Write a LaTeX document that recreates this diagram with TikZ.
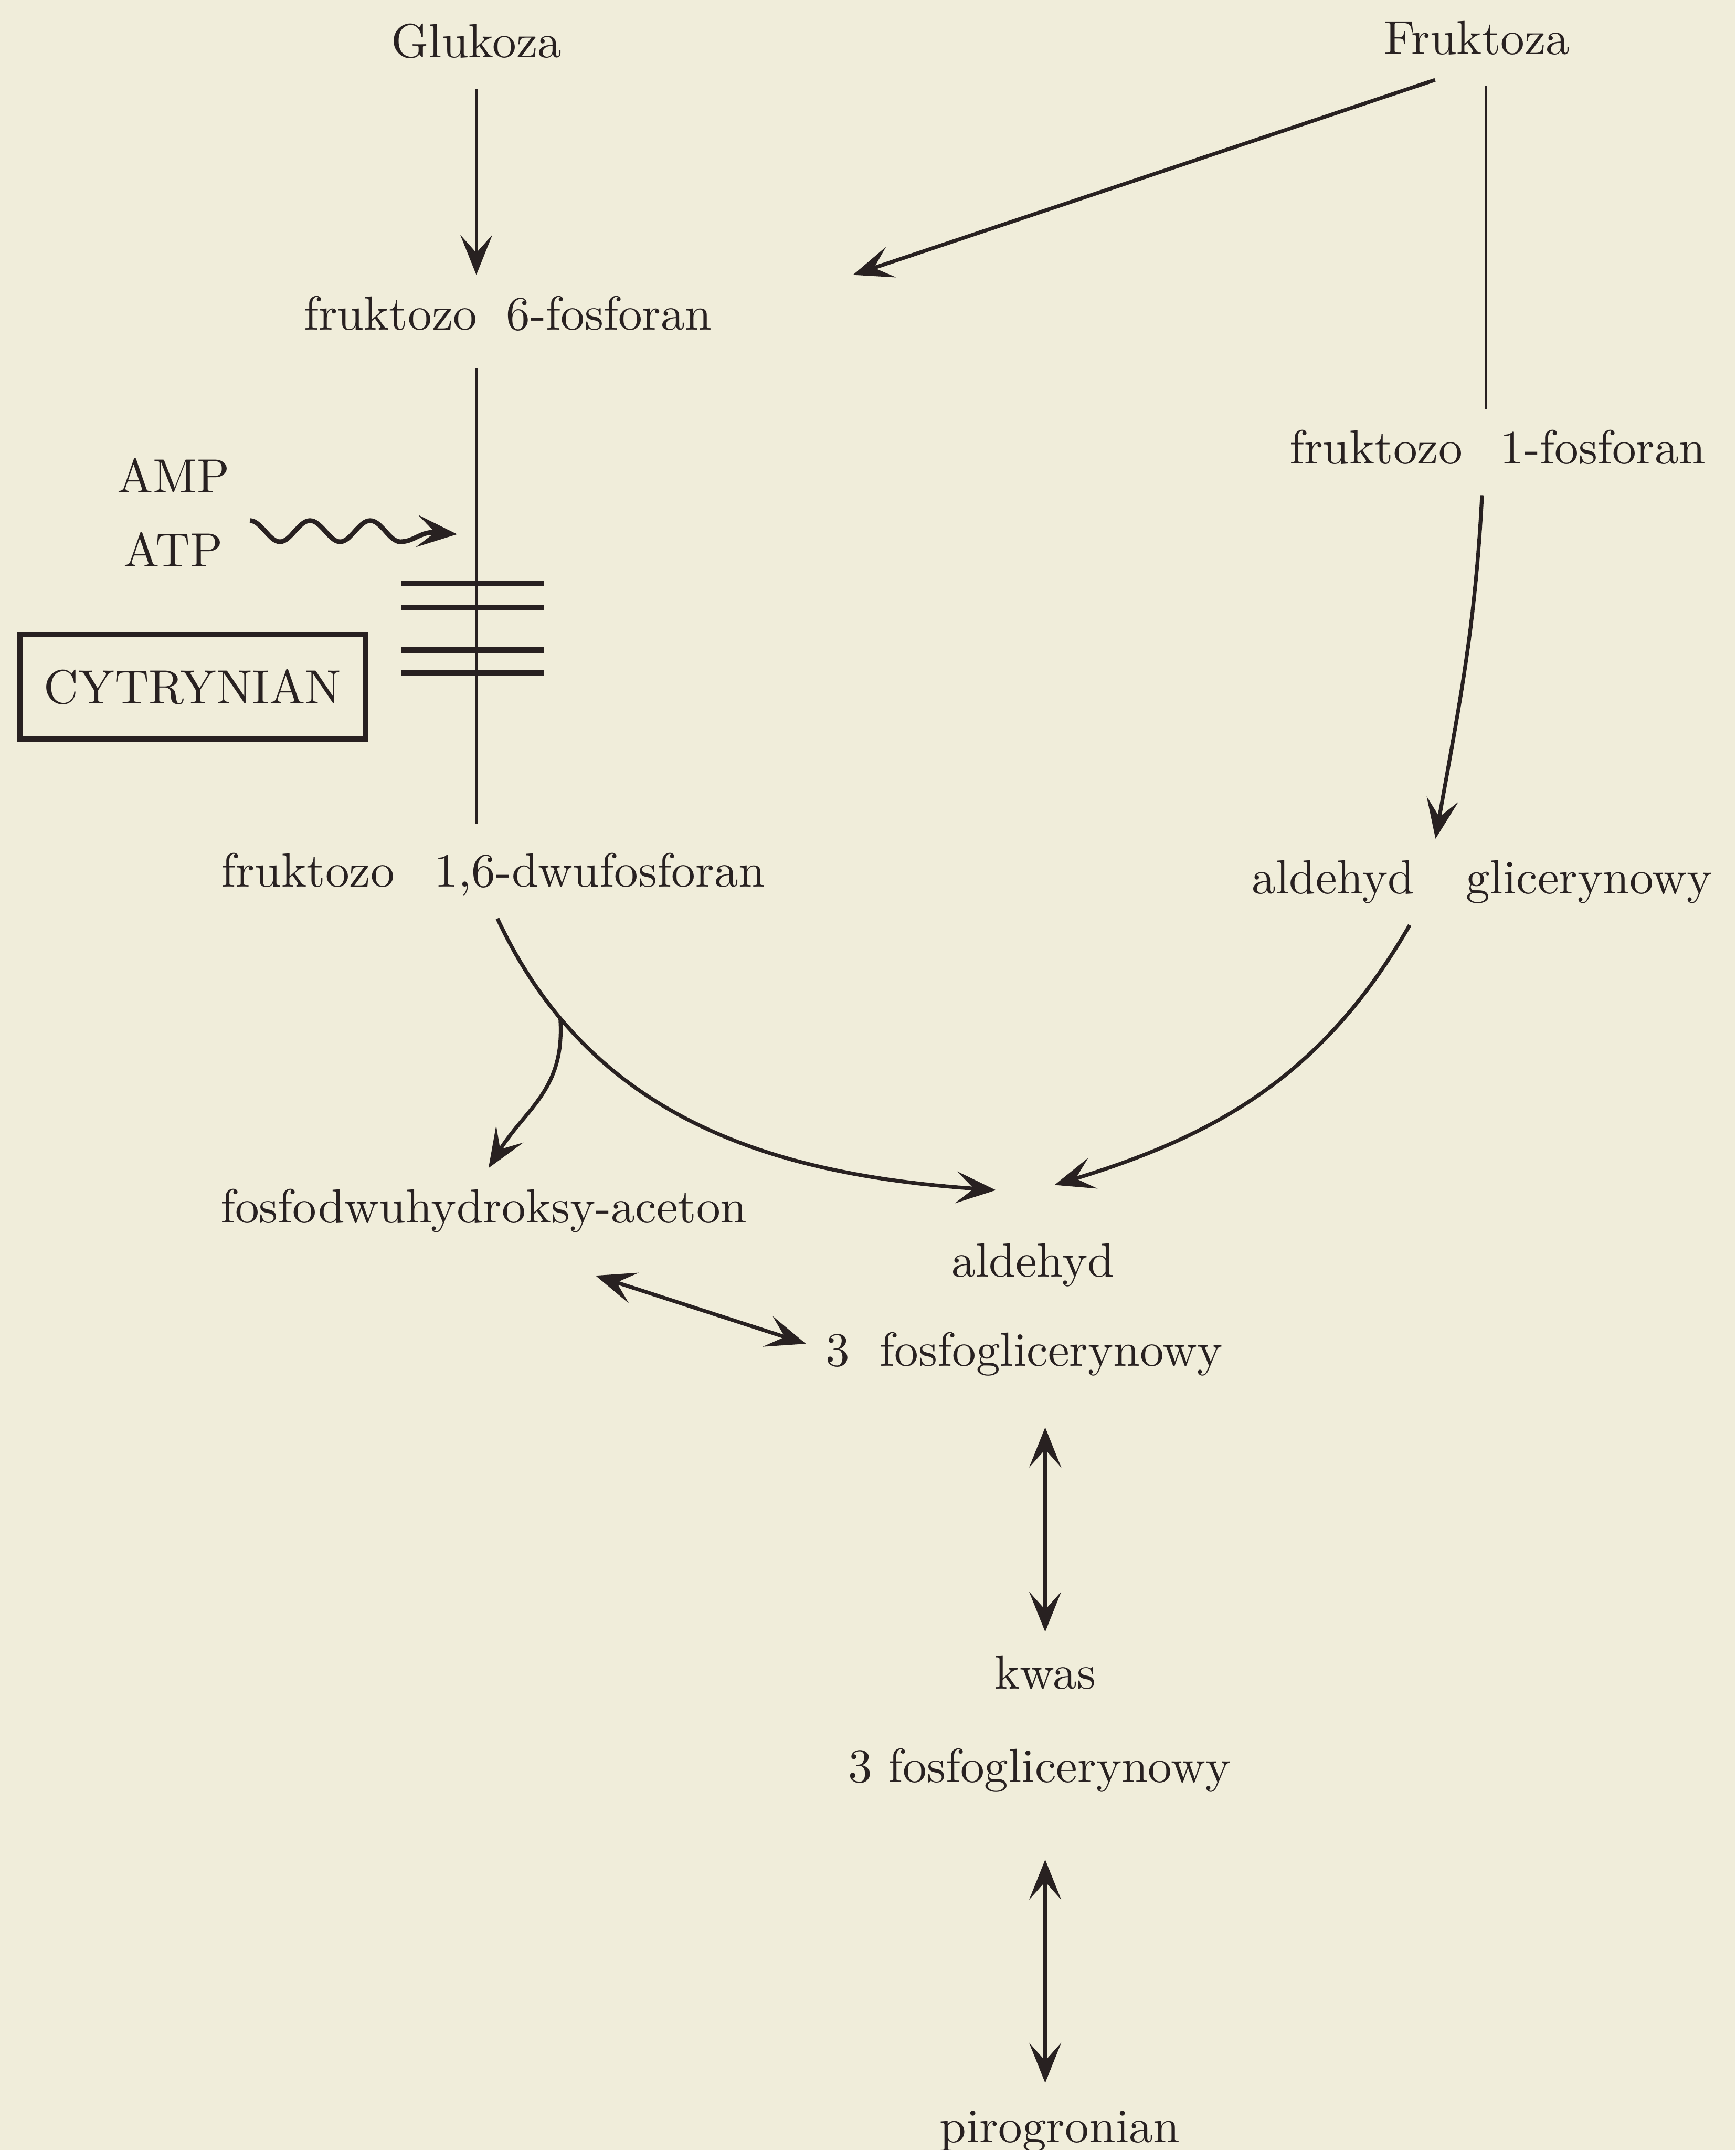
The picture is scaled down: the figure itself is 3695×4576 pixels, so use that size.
\documentclass[tikz,border=0pt]{standalone}
\usetikzlibrary{arrows.meta}
\definecolor{paper}{RGB}{240,237,218}
\definecolor{ink}{RGB}{40,33,33}

\begin{document}
\begin{tikzpicture}[x=0.1pt,y=-0.1pt,
    >={Stealth[length=8.5pt,width=6.8pt,inset=3.8pt]},
    every node/.style={font=\fontsize{10.2}{12}\selectfont,text=ink},
    metab/.style={anchor=base,text height=7pt,text depth=2pt,inner sep=4.5pt},
    link/.style={draw=ink,line width=0.55pt},
    flow/.style={draw=ink,line width=0.8pt},
    bar/.style={draw=ink,line width=1.2pt}]
  \path[use as bounding box,fill=paper] (0,0) rectangle (3695,4576);
  \path
  node[metab] (glu)   at (1014,122)  {Glukoza}
  node[metab] (fru)   at (3144,116)  {Fruktoza}
  node[metab] (f6p)   at (1081,702)  {fruktozo\hspace{6.2pt}6-fosforan}
  node[metab] (f1p)   at (3188,987)  {fruktozo\hspace{8pt}1-fosforan}
  node[metab] (amp)   at (369,1048)  {AMP}
  node[metab] (atp)   at (369,1206)  {ATP}
  node[draw=ink,line width=1.2pt,minimum width=73.5pt,minimum height=22.3pt] (cyt) at (410,1462) {CYTRYNIAN}
  node[metab] (f16bp) at (1050,1888) {fruktozo\hspace{8.5pt}1,6-dwufosforan}
  node[metab] (gly)   at (3155,1902) {aldehyd\hspace{11pt}glicerynowy}
  node[metab] (dhap)  at (1030,2603) {fosfodwuhydroksy-aceton}
  node[metab] (g3pa)  at (2199,2718) {aldehyd}
  node[metab] (g3pb)  at (2180,2907) {3\hspace{6.5pt}fosfoglicerynowy}
  node[metab] (pga1)  at (2225,3595) {kwas}
  node[metab] (pga2)  at (2213,3793) {3 fosfoglicerynowy}
  node[metab] (pyr)   at (2256,4560) {pirogronian}
  ;
  \coordinate (wv0) at (532,1108);
  \coordinate (wv1) at (973,1137);
  \draw[flow,line width=1pt,->] (wv0) cos ++(32,22) sin ++(32,23) cos ++(32,-23) sin ++(32,-22)
    cos ++(32,22) sin ++(32,23) cos ++(32,-23) sin ++(32,-22)
    cos ++(32,22) sin ++(32,23) to[out=0,in=180] ++(70,-20) -- (wv1);
  \foreach \y in {1242,1293,1384,1432}
    \draw[bar] (854,\y) -- (1157,\y);
  \path[->]
  (glu.south) edge[link] (glu.south |- f6p.north)
  ([xshift=-8.9pt,yshift=1.3pt]fru.south) edge[flow] ([xshift=25.4pt]f6p.north east)
  ([xshift=-3.3pt]f1p.south) edge[flow,out=-93,in=80] ([xshift=-9.9pt]gly.north)
  ([xshift=-15.4pt]gly.south) edge[flow,out=-120,in=17] ([shift={(4.6pt,7.9pt)}]g3pa.north)
  ;
  \path
  (f6p.south -| glu.south) edge[link,shorten <=1.5pt,shorten >=1.7pt] (f16bp.north -| glu.south)
  ([xshift=1.9pt]fru.south) edge[link] ([xshift=1.9pt]fru.south |- f1p.north)
  ;
  \draw[flow,->] ([xshift=0.9pt]f16bp.south) to[out=-65,in=176] coordinate[pos=0.19] (split)
    ([shift={(-7.9pt,6.8pt)}]g3pa.north);
  \draw[flow,->] (split) to[out=-86,in=58,looseness=1.1] ([xshift=1pt]dhap.north);
  \draw[flow,<->] ([shift={(23.8pt,-4.5pt)}]dhap.south) -- ([shift={(0.5pt,2.2pt)}]g3pb.west);
  \draw[flow,<->,shorten <=6.4pt,shorten >=0.5pt] (g3pb.south -| pga1.north) -- (pga1.north);
  \draw[flow,<->,shorten <=9.8pt,shorten >=1pt] (pga2.south -| pga1.north) -- (pyr.north -| pga1.north);
\end{tikzpicture}
\end{document}
